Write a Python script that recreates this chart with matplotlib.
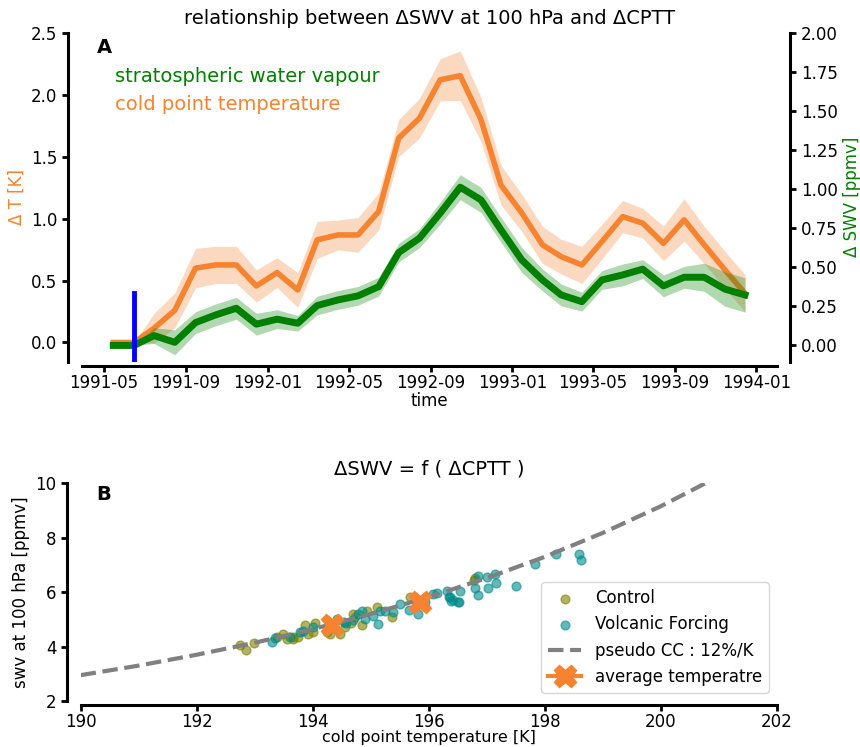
import numpy as np
import pandas as pd
import matplotlib
matplotlib.use('Agg')
import matplotlib.pyplot as plt
import matplotlib.dates as mdates

# ---------------------------------------------------------------------------
# DATA
# ---------------------------------------------------------------------------
# monthly means, mid-month, 1991-05 .. 1993-12
months = pd.date_range('1991-05-01', '1993-12-01', freq='MS') + pd.Timedelta(days=14)
eruption = pd.Timestamp('1991-06-15')

# cold point temperature anomaly [K] and spread
dT = [0.0, 0.0, 0.115, 0.26, 0.60, 0.626, 0.626, 0.456, 0.564, 0.424,
      0.828, 0.868, 0.868, 1.057, 1.65, 1.81, 2.12, 2.153, 1.80, 1.27,
      1.046, 0.788, 0.693, 0.626, 0.814, 1.016, 0.963, 0.80, 0.99, 0.788,
      0.586, 0.397]
dT_err = [0.0, 0.0, 0.12, 0.14, 0.16, 0.15, 0.15, 0.13, 0.12, 0.14,
          0.15, 0.12, 0.14, 0.15, 0.15, 0.16, 0.17, 0.20, 0.18, 0.16,
          0.15, 0.15, 0.14, 0.15, 0.14, 0.13, 0.12, 0.14, 0.17, 0.15,
          0.15, 0.15]

# stratospheric water vapour anomaly [ppmv] and spread
dSWV = [0.0, 0.0, 0.063, 0.02, 0.146, 0.195, 0.238, 0.136, 0.168, 0.142,
        0.255, 0.291, 0.317, 0.376, 0.594, 0.686, 0.846, 1.012, 0.931, 0.739,
        0.547, 0.419, 0.323, 0.28, 0.419, 0.451, 0.488, 0.381, 0.436, 0.436,
        0.36, 0.323]
dSWV_err = [0.0, 0.0, 0.05, 0.08, 0.07, 0.07, 0.07, 0.07, 0.06, 0.05,
            0.06, 0.06, 0.06, 0.06, 0.06, 0.06, 0.07, 0.08, 0.08, 0.08,
            0.08, 0.07, 0.07, 0.06, 0.06, 0.07, 0.06, 0.07, 0.07, 0.09,
            0.11, 0.11]

# scatter: cold point temperature [K] vs swv at 100 hPa [ppmv]
ctrl_T = [192.75, 192.85, 192.99, 193.38, 193.49, 193.55, 193.66, 193.66,
          193.75, 193.87, 193.92, 194.00, 194.04, 194.24, 194.30, 194.47,
          194.55, 194.65, 194.70, 194.73, 194.84, 194.93, 195.10, 195.36,
          195.67, 196.77, 196.79]
ctrl_swv = [4.04, 3.89, 4.13, 4.35, 4.45, 4.29, 4.35, 4.26,
            4.35, 4.80, 4.45, 4.53, 4.86, 4.53, 4.47, 4.47,
            4.71, 4.88, 5.20, 5.08, 4.81, 5.32, 5.44, 5.08,
            5.81, 6.44, 6.51]

volc_T = [193.29, 193.35, 193.61, 193.78, 193.84, 194.01, 194.41, 194.53,
          194.58, 194.70, 194.78, 194.84, 194.90, 195.04, 195.13, 195.16,
          195.24, 195.39, 195.50, 195.65, 195.82, 195.93, 196.08, 196.14,
          196.31, 196.34, 196.42, 196.51, 196.54, 196.79, 196.85, 196.36,
          196.39, 196.52, 196.85, 197.00, 197.02, 197.14, 197.16, 197.51,
          197.83, 198.19, 198.58, 198.62]
volc_swv = [4.16, 4.32, 4.35, 4.53, 4.59, 4.71, 5.02, 4.90,
            4.86, 4.96, 5.20, 5.32, 5.02, 5.14, 4.84, 5.32,
            5.32, 5.26, 5.56, 5.35, 5.20, 5.65, 5.95, 5.98,
            6.03, 5.83, 5.71, 5.62, 6.03, 6.17, 5.91, 5.81,
            5.69, 5.62, 6.60, 6.54, 6.17, 6.68, 6.32, 6.22,
            7.03, 7.41, 7.39, 7.19]

# pseudo Clausius-Clapeyron curve (12%/K)
cc_T = [190, 191, 192, 193, 194, 195, 196, 197, 198, 199, 200, 201]
cc_swv = [2.95, 3.30, 3.70, 4.14, 4.64, 5.20, 5.82, 6.52, 7.30, 8.18, 9.16, 10.26]

# average temperature points (control, volcanic)
avg_T = [194.33, 195.85]
avg_swv = [4.80, 5.64]

# ---------------------------------------------------------------------------
# STYLE
# ---------------------------------------------------------------------------
orange = '#f5832f'
green = 'green'
plt.rcParams['font.size'] = 12
plt.rcParams['axes.linewidth'] = 2.2
plt.rcParams['xtick.major.width'] = 2
plt.rcParams['ytick.major.width'] = 2
plt.rcParams['xtick.major.size'] = 4
plt.rcParams['ytick.major.size'] = 4
plt.rcParams['xtick.major.pad'] = 2
plt.rcParams['xtick.labelsize'] = 12
plt.rcParams['ytick.labelsize'] = 12

fig = plt.figure(figsize=(8.6, 7.47), dpi=100)

# ---------------------------------------------------------------------------
# PANEL A : time series
# ---------------------------------------------------------------------------
ax1 = fig.add_axes([0.095, 0.5158, 0.808, 0.4404])
dT = np.array(dT)
dT_err = np.array(dT_err)
ax1.fill_between(months, dT - dT_err, dT + dT_err, color=orange, alpha=0.3, lw=0)
ax1.plot(months, dT, color=orange, lw=4)
ax1.set_ylim(-0.155, 2.5)
ax1.set_ylabel('Δ T [K]', color=orange)
ax1.set_xlabel('time', labelpad=0)
ax1.xaxis.set_major_locator(mdates.MonthLocator(bymonth=[1, 5, 9]))
ax1.xaxis.set_major_formatter(mdates.DateFormatter('%Y-%m'))
ax1.spines['top'].set_visible(False)
ax1.spines['right'].set_visible(False)
ax1.spines['left'].set_position(('outward', 10))
ax1.spines['bottom'].set_position(('outward', 3))
ax1.set_title('relationship between ΔSWV at 100 hPa and ΔCPTT', fontsize=14)

ax2 = ax1.twinx()
dSWV = np.array(dSWV)
dSWV_err = np.array(dSWV_err)
ax2.fill_between(months, dSWV - dSWV_err, dSWV + dSWV_err, color=green, alpha=0.3, lw=0)
ax2.plot(months, dSWV, color=green, lw=5)
ax2.axvline(eruption, ymin=0, ymax=0.21, color='blue', lw=3.5)
ax2.set_ylim(-0.104, 2.0)
ax2.set_yticks(np.arange(0, 2.01, 0.25))
ax2.set_ylabel('Δ SWV [ppmv]', color=green)
for s in ['top', 'left', 'bottom']:
    ax2.spines[s].set_visible(False)
ax2.spines['right'].set_position(('outward', 10))

ax1.text(0.022, 0.985, 'A', transform=ax1.transAxes, fontsize=14,
         fontweight='bold', va='top')
ax1.text(0.048, 0.868, 'stratospheric water vapour', transform=ax1.transAxes,
         fontsize=14, color=green, va='center')
ax1.text(0.048, 0.783, 'cold point temperature', transform=ax1.transAxes,
         fontsize=14, color=orange, va='center')

# ---------------------------------------------------------------------------
# PANEL B : scatter
# ---------------------------------------------------------------------------
ax3 = fig.add_axes([0.0938, 0.0616, 0.8097, 0.2914])
ax3.scatter(ctrl_T, ctrl_swv, s=40, color='olive', alpha=0.6, label='Control')
ax3.scatter(volc_T, volc_swv, s=40, color='darkcyan', alpha=0.6, label='Volcanic Forcing')
ax3.plot(cc_T, cc_swv, color='grey', lw=3, ls='--', label='pseudo CC : 12%/K')
ax3.plot(avg_T[0], avg_swv[0], color=orange, marker='X', ms=16, lw=3,
         label='average temperatre')
ax3.plot(avg_T[1], avg_swv[1], color=orange, marker='X', ms=16, lw=3)
ax3.set_xlim(190, 202)
ax3.set_ylim(2, 10)
ax3.set_xticks(np.arange(190, 203, 2))
ax3.set_yticks(np.arange(2, 11, 2))
ax3.tick_params(axis='x', pad=1.5)
ax3.set_xlabel('cold point temperature [K]', fontsize=11.5, labelpad=-0.5)
ax3.set_ylabel('swv at 100 hPa [ppmv]')
ax3.set_title('ΔSWV = f ( ΔCPTT )', fontsize=14)
ax3.spines['top'].set_visible(False)
ax3.spines['right'].set_visible(False)
ax3.spines['left'].set_position(('outward', 10))
ax3.spines['bottom'].set_position(('outward', 3))
ax3.legend(loc='lower right', fontsize=12)
ax3.text(0.022, 0.99, 'B', transform=ax3.transAxes, fontsize=14,
         fontweight='bold', va='top')

fig.savefig('out.png', dpi=100)
